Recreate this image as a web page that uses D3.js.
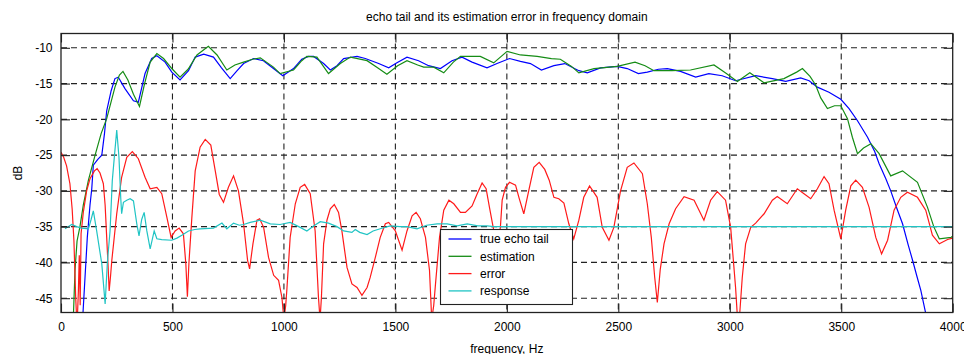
<!DOCTYPE html>
<html>
<head>
<meta charset="utf-8">
<script src="https://cdn.jsdelivr.net/npm/d3@7"></script>
<style>
  html, body { margin: 0; padding: 0; background: #fff; }
  svg { display: block; font-family: "Liberation Sans", Arial, sans-serif; }
</style>
</head>
<body>
<div id="chart"></div>
<script>
// echo tail vs. estimate
const xTicks = [0, 500, 1000, 1500, 2000, 2500, 3000, 3500, 4000];
const yTicks = [-10, -15, -20, -25, -30, -35, -40, -45];
const seriesNames = ['true echo tail', 'estimation', 'error', 'response'];

// [frequency Hz, dB]
const trueEcho = [
  [97,-48],[100,-46.3],[118,-36.5],[130,-32],[138,-29.7],[145,-26.4],[165,-25.6],[183,-25],[195,-22],[205,-18.8],
  [225,-16],[242,-14.3],[257,-14.1],[287,-15.7],[325,-17.4],[347,-17.6],[377,-13.6],[407,-11.5],[430,-11.1],
  [467,-12.0],[497,-13.4],[534,-14.5],[572,-13.2],[602,-11.3],[640,-10.9],[684,-11.3],[720,-12.8],[759,-14.3],
  [790,-13.2],[819,-12.2],[864,-11.5],[908,-11.8],[953,-12.9],[995,-13.9],[1043,-12.9],[1080,-11.6],[1110,-11.2],
  [1133,-11.2],[1178,-12.2],[1208,-13.1],[1238,-12.5],[1268,-11.5],[1328,-11.2],[1365,-11.5],[1425,-12.2],
  [1470,-12.8],[1507,-12.1],[1552,-11.3],[1604,-11.8],[1649,-12.5],[1702,-12.9],[1754,-11.8],[1799,-11.3],
  [1844,-12.0],[1911,-12.8],[1956,-12.2],[2012,-11.5],[2061,-11.9],[2106,-12.2],[2155,-13.1],[2211,-12.5],
  [2260,-12.2],[2323,-13.2],[2361,-13.5],[2420,-12.8],[2495,-12.6],[2540,-12.9],[2590,-13.6],[2630,-13.4],
  [2680,-13.0],[2720,-12.9],[2779,-13.3],[2847,-14.1],[2906,-13.6],[2966,-13.9],[3026,-14.6],[3116,-13.9],
  [3191,-14.3],[3251,-14.7],[3318,-14.2],[3356,-14.6],[3393,-15.5],[3445,-16.2],[3498,-17.2],[3535,-18.5],
  [3573,-20.2],[3618,-22.5],[3650,-24.5],[3670,-26.2],[3700,-28.3],[3722,-30.0],[3750,-32.5],[3775,-34.6],
  [3800,-37.5],[3820,-39.7],[3840,-42],[3857,-43.9],[3885,-48]
];

const estimation = [
  [55,-48],[63,-41],[72,-37],[85,-35],[100,-32],[123,-28.5],[153,-25],[180,-22],[205,-19.9],[242,-15.5],
  [262,-13.8],[278,-13.3],[300,-14.5],[325,-16.5],[352,-18.2],[375,-15],[400,-12],[430,-10.8],[460,-11.5],
  [500,-13.0],[534,-14.1],[570,-13],[610,-11],[661,-9.8],[700,-11],[744,-13.1],[780,-12.4],[819,-12.0],
  [860,-11.6],[894,-11.4],[953,-12.7],[983,-13.6],[1043,-13.1],[1080,-11.8],[1103,-11.2],[1148,-11.3],
  [1200,-13.6],[1253,-12.2],[1298,-11.3],[1373,-11.8],[1420,-12.8],[1462,-13.7],[1510,-12.5],[1552,-11.8],
  [1600,-12.4],[1627,-12.7],[1672,-12.7],[1717,-13.5],[1760,-12.0],[1792,-11.2],[1881,-11.2],[1941,-12.1],
  [2001,-10.5],[2061,-11.0],[2136,-11.2],[2200,-11.5],[2240,-11.6],[2290,-12.6],[2323,-13.5],[2391,-12.9],
  [2495,-12.6],[2575,-12.0],[2620,-12.5],[2660,-13.2],[2740,-13.2],[2824,-13.1],[2929,-12.4],[2980,-13.5],
  [3034,-14.7],[3090,-13.5],[3154,-14.9],[3243,-14.3],[3300,-13.4],[3326,-12.9],[3360,-14],[3385,-15.2],
  [3408,-17],[3438,-18.5],[3470,-18.1],[3498,-18.1],[3528,-19.9],[3550,-22.5],[3573,-24.8],[3600,-24],
  [3633,-23.4],[3670,-24.8],[3722,-27.9],[3775,-27.2],[3842,-28.8],[3887,-32.3],[3915,-35],[3940,-36.7],
  [3993,-36.5],[4000,-36.3]
];

const error = [
  [0,-24.6],[12,-25.3],[25,-26.5],[40,-29],[50,-32.5],[58,-37],[66,-45],[72,-49],[78,-44],[82,-39],[86,-46],
  [90,-36],[100,-33],[115,-30],[130,-28.3],[150,-27.2],[162,-26.9],[175,-27.5],[190,-29],[198,-32],[205,-36.5],
  [212,-41],[216,-44],[222,-42],[228,-39.7],[250,-33.2],[272,-28.1],[295,-25.3],[320,-24.5],[347,-25.5],
  [377,-28.1],[400,-29.7],[430,-29.5],[452,-30.4],[475,-33.7],[494,-36.5],[512,-35.6],[530,-35.2],[549,-36],
  [560,-40.2],[567,-44.8],[574,-40],[587,-33.7],[602,-27.2],[624,-23.9],[647,-22.8],[672,-23.6],[692,-27.2],
  [710,-30.5],[729,-31.6],[751,-29.5],[774,-27.9],[796,-30.0],[819,-34.6],[837,-39.7],[846,-40.9],[861,-37.4],
  [879,-34.1],[891,-33.9],[909,-35.1],[931,-39.3],[954,-41.8],[976,-42.5],[991,-44.9],[1000,-48],[1008,-46],
  [1013,-43.9],[1028,-36.5],[1051,-31.8],[1073,-29.5],[1093,-29.1],[1118,-30.4],[1140,-35.6],[1155,-44.9],
  [1162,-48],[1168,-45],[1178,-37.4],[1193,-34.1],[1208,-32.5],[1226,-31.9],[1245,-33],[1260,-35.6],
  [1283,-40.7],[1305,-43],[1328,-43.5],[1350,-44.6],[1373,-43.5],[1387,-42.1],[1410,-39.3],[1432,-36.5],
  [1455,-34.6],[1470,-34.4],[1500,-35.6],[1530,-38.3],[1552,-35.6],[1575,-33.5],[1593,-33],[1612,-33.9],
  [1635,-36.5],[1653,-41.1],[1663,-48],[1672,-46],[1680,-43],[1698,-36.5],[1717,-32.7],[1740,-31.3],
  [1762,-31.8],[1792,-33],[1814,-33],[1844,-32.1],[1867,-30.4],[1889,-28.9],[1907,-29.7],[1922,-32.3],
  [1941,-35.5],[1955,-38],[1971,-35.1],[1979,-31.3],[1994,-29.5],[2012,-28.8],[2039,-29.2],[2055,-31],
  [2076,-33.2],[2098,-30],[2121,-26.7],[2145,-26.0],[2170,-27],[2190,-28.5],[2211,-30.9],[2233,-31.1],
  [2256,-31.7],[2278,-34.6],[2300,-36.7],[2323,-34.1],[2345,-30.9],[2371,-29.3],[2405,-30.9],[2428,-35.1],
  [2458,-36.9],[2480,-35.1],[2510,-30],[2540,-26.7],[2570,-26.1],[2608,-27.6],[2630,-31.8],[2648,-36.5],
  [2663,-42],[2675,-45.6],[2688,-41],[2705,-37.4],[2728,-34.6],[2757,-32.5],[2795,-30.8],[2840,-31.3],
  [2884,-34.1],[2914,-31.3],[2944,-30.1],[2981,-31.3],[3004,-35.1],[3026,-43.5],[3035,-48],[3045,-47],
  [3056,-42.1],[3071,-37.4],[3094,-35.1],[3116,-34.5],[3154,-33.2],[3191,-31.3],[3213,-30.8],[3258,-31.8],
  [3303,-29.7],[3333,-30.4],[3363,-31.1],[3393,-29.7],[3423,-28],[3445,-29],[3468,-32.7],[3498,-36.7],
  [3520,-32.7],[3543,-29.3],[3565,-28.5],[3595,-29.5],[3625,-32.3],[3655,-36.5],[3681,-38.8],[3708,-36.9],
  [3737,-32.7],[3767,-30.9],[3797,-30.2],[3842,-30.9],[3879,-32.7],[3909,-36.2],[3940,-37.4],[3977,-36.8],
  [4000,-36.6]
];

const response = [
  [18,-35.3],[48,-34.7],[70,-35],[93,-35.2],[123,-35.3],[135,-34],[145,-32.8],[160,-35.6],[183,-40.2],
  [198,-45.8],[208,-40],[220,-35.6],[230,-28.6],[240,-25],[250,-21.5],[260,-25.3],[268,-31],[272,-33.2],
  [280,-31.6],[295,-31.3],[310,-31.1],[325,-31.4],[340,-34.6],[350,-36.3],[362,-34],[373,-33],[385,-35.6],
  [400,-38.1],[418,-35.6],[430,-36.7],[452,-36.8],[497,-36.9],[520,-36.6],[542,-36.2],[572,-35.6],[600,-35.4],
  [624,-35.3],[684,-35.2],[722,-34.5],[744,-35.3],[774,-34.5],[800,-34.8],[819,-34.7],[849,-34.4],[894,-34.1],
  [939,-34.6],[983,-34.7],[1028,-34.4],[1073,-35.1],[1103,-35.6],[1133,-34.9],[1163,-34.3],[1200,-34.5],
  [1238,-35.0],[1268,-35.6],[1305,-35.8],[1320,-35.4],[1340,-35.8],[1373,-36.1],[1400,-35.6],[1432,-35.3],
  [1477,-34.9],[1520,-35],[1552,-35.0],[1597,-35.3],[1640,-34.8],[1687,-34.6],[1732,-34.6],[1777,-34.9],
  [1822,-34.6],[1870,-34.9],[1911,-34.9],[1941,-35.0],[1960,-35.0],[4000,-35.0]
];

const colors = ['#0000ff', '#158c15', '#ff1a1a', '#20c4c4'];

const W = 964, H = 354;
const plot = { left: 61, right: 952.7, top: 33.5, bottom: 312.5 };

const svg = d3.select('#chart')
  .append('svg')
  .attr('width', W)
  .attr('height', H);

const x = d3.scaleLinear().domain([0, 4000]).range([plot.left, plot.right]);
const y = d3.scaleLinear().domain([-47, -8]).range([plot.bottom, plot.top]);

svg.append('defs').append('clipPath').attr('id', 'clip')
  .append('rect')
  .attr('x', plot.left).attr('y', plot.top)
  .attr('width', plot.right - plot.left).attr('height', plot.bottom - plot.top);

// grid
const grid = svg.append('g')
  .attr('stroke', '#222')
  .attr('stroke-width', 1.1)
  .attr('stroke-dasharray', '6,4');
grid.selectAll('line.gx')
  .data(xTicks.filter(t => t > 0 && t < 4000))
  .join('line')
  .attr('x1', d => x(d)).attr('x2', d => x(d))
  .attr('y1', plot.top).attr('y2', plot.bottom);
grid.selectAll('line.gy')
  .data(yTicks)
  .join('line')
  .attr('x1', plot.left).attr('x2', plot.right)
  .attr('y1', d => y(d)).attr('y2', d => y(d));

// curves
const line = d3.line().x(d => x(d[0])).y(d => y(d[1]));
const lines = svg.append('g').attr('clip-path', 'url(#clip)');
[trueEcho, estimation, error, response].forEach((s, i) => {
  lines.append('path')
    .datum(s)
    .attr('fill', 'none')
    .attr('stroke', colors[i])
    .attr('stroke-width', 1.2)
    .attr('d', line);
});

// axes, ticks pointing inwards
const tickLen = 9;
const fmt = d3.format('d');
function styleAxis(g) {
  g.select('.domain').remove();
  g.selectAll('.tick line').attr('stroke', '#222').attr('stroke-width', 1.1);
  g.selectAll('.tick text').attr('fill', '#000').style('font-size', '12px');
}
svg.append('g')
  .attr('transform', `translate(0,${plot.bottom})`)
  .call(d3.axisBottom(x).tickValues(xTicks).tickFormat(fmt).tickSize(-tickLen).tickPadding(10).tickSizeOuter(0))
  .call(styleAxis);
svg.append('g')
  .attr('transform', `translate(0,${plot.top})`)
  .call(d3.axisTop(x).tickValues(xTicks).tickSize(-tickLen).tickFormat('').tickSizeOuter(0))
  .call(styleAxis);
svg.append('g')
  .attr('transform', `translate(${plot.left},0)`)
  .call(d3.axisLeft(y).tickValues(yTicks).tickFormat(d => '-' + Math.abs(d)).tickSize(-tickLen).tickPadding(8.5).tickSizeOuter(0))
  .call(styleAxis);
svg.append('g')
  .attr('transform', `translate(${plot.right},0)`)
  .call(d3.axisRight(y).tickValues(yTicks).tickSize(-tickLen).tickFormat('').tickSizeOuter(0))
  .call(styleAxis);

svg.append('rect')
  .attr('x', plot.left).attr('y', plot.top)
  .attr('width', plot.right - plot.left).attr('height', plot.bottom - plot.top)
  .attr('fill', 'none')
  .attr('stroke', '#222')
  .attr('stroke-width', 1.3);

// labels
svg.append('text')
  .attr('x', (plot.left + plot.right) / 2).attr('y', 21)
  .attr('text-anchor', 'middle')
  .style('font-size', '12px')
  .text('echo tail and its estimation error in frequency domain');
svg.append('text')
  .attr('x', (plot.left + plot.right) / 2).attr('y', 352.5)
  .attr('text-anchor', 'middle')
  .style('font-size', '12px')
  .text('frequency, Hz');
svg.append('text')
  .attr('transform', `translate(21.5,${(plot.top + plot.bottom) / 2}) rotate(-90)`)
  .attr('text-anchor', 'middle')
  .style('font-size', '12px')
  .text('dB');

// legend
const lg = svg.append('g').attr('transform', 'translate(440.5,229.5)');
lg.append('rect')
  .attr('width', 132).attr('height', 75)
  .attr('fill', '#fff')
  .attr('stroke', '#222')
  .attr('stroke-width', 1.1);
const rows = lg.selectAll('g.row')
  .data(seriesNames)
  .join('g')
  .attr('transform', (d, i) => `translate(0,${9.5 + i * 17.3})`);
rows.append('line')
  .attr('x1', 8).attr('x2', 31)
  .attr('stroke', (d, i) => colors[i])
  .attr('stroke-width', 1.3);
rows.append('text')
  .attr('x', 39.5).attr('dy', '0.35em')
  .style('font-size', '12px')
  .text(d => d);
</script>
</body>
</html>
